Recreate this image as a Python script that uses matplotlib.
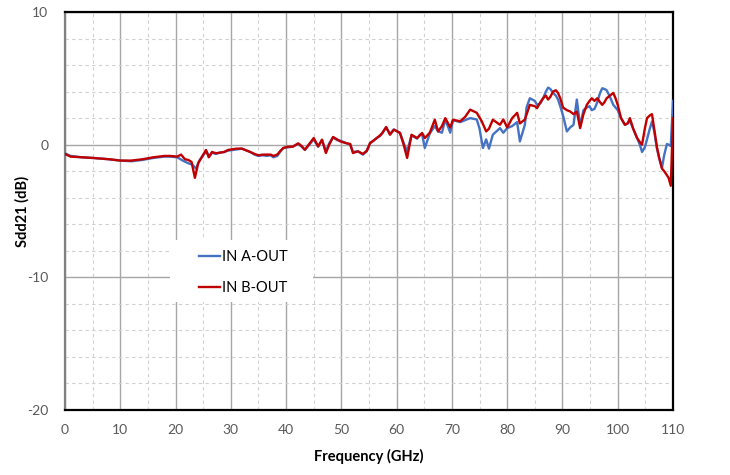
import matplotlib
matplotlib.use('Agg')
import matplotlib.pyplot as plt
from matplotlib.ticker import MultipleLocator
from matplotlib.patches import Rectangle

# IN A-OUT trace (GHz, dB)
freq_a = [0, 1, 3, 5, 8, 10, 12, 14, 16, 18, 19, 20.3, 21.3, 22.3, 23, 23.7, 24.3,
          25, 25.6, 26.1, 26.6, 27.3, 28, 28.8, 29.5, 30.3, 31, 32, 33.5, 34.3, 35,
          35.8, 36.5, 37.2, 37.7, 38.4, 39, 39.5, 40.3, 41.2, 42.2, 42.8, 43.4, 44,
          45, 45.8, 46.5, 47.2, 47.8, 48.5, 49.2, 49.8, 50.7, 51.6, 52.1, 53, 53.9,
          54.6, 55.2, 55.8, 56.4, 57, 57.4, 58.1, 58.8, 59.5, 60.6, 61.2, 61.9, 62.7,
          63.7, 64.2, 64.6, 65.1, 66, 66.9, 67.5, 68.2, 68.8, 69.7, 70.2, 71.5, 72.4,
          73.3, 74.5, 75, 75.4, 75.6, 76.2, 76.7, 77.4, 78.7, 79.3, 80, 80.9, 81.8,
          82.3, 83.2, 83.5, 84.1, 85, 85.4, 86, 86.5, 87, 87.4, 87.8, 88.3, 88.8,
          89.2, 89.6, 90.1, 90.8, 91.4, 92.0, 92.6, 93.2, 93.8, 94.4, 94.9, 95.3,
          95.8, 96.3, 96.8, 97.2, 97.6, 98, 98.6, 99.2, 99.6, 100, 100.6, 101.3,
          101.8, 102.2, 102.8, 103.5, 104, 104.4, 104.9, 105.3, 105.8, 106.2, 106.6,
          107.1, 107.5, 108, 108.4, 108.9, 109.2, 109.6, 110]
sdd21_a = [-0.65, -0.85, -0.95, -1.0, -1.1, -1.2, -1.25, -1.15, -1.0, -0.9, -0.9,
           -0.95, -1.2, -1.4, -1.5, -1.8, -1.2, -0.8, -0.5, -0.9, -0.6, -0.7, -0.6,
           -0.55, -0.45, -0.4, -0.35, -0.3, -0.55, -0.75, -0.85, -0.8, -0.85, -0.8,
           -0.95, -0.85, -0.5, -0.25, -0.2, -0.15, 0.05, -0.15, -0.4, -0.1, 0.4,
           -0.15, 0.35, -0.5, 0.1, 0.55, 0.35, 0.3, 0.15, 0.0, -0.55, -0.5, -0.75,
           -0.5, 0.1, 0.3, 0.5, 0.65, 0.85, 1.3, 0.8, 1.15, 0.9, 0.2, -0.5, 0.7,
           0.45, 0.75, 0.8, -0.25, 0.85, 1.4, 1.0, 0.9, 1.9, 0.9, 1.85, 1.7, 1.85,
           2.0, 1.9, 1.2, 0.25, -0.25, 0.4, -0.3, 0.75, 1.25, 0.9, 1.25, 1.4, 1.7,
           0.25, 1.5, 2.8, 3.5, 3.3, 3.0, 3.1, 3.5, 4.0, 4.3, 4.2, 3.9, 3.7, 3.4,
           2.9, 2.2, 1.0, 1.3, 1.5, 3.4, 1.4, 2.6, 2.8, 2.9, 2.6, 2.7, 3.2, 3.9, 4.25,
           4.2, 4.1, 3.6, 3.0, 2.8, 2.6, 2.0, 1.5, 1.6, 1.8, 1.2, 0.5, 0.0, -0.55,
           -0.2, 0.4, 1.2, 1.75, 1.0, -0.3, -1.0, -1.75, -0.8, 0.05, 0.0, -0.1, 3.3]

# IN B-OUT trace (GHz, dB)
freq_b = [0, 1, 3, 5, 8, 10, 12, 14, 16, 18, 19, 20.3, 21, 21.7, 22.3, 22.9, 23.5,
          24.1, 25, 25.5, 26, 26.6, 27.3, 28, 28.8, 29.5, 30.3, 31, 32, 33.5, 34.3,
          35, 35.8, 36.5, 37.2, 37.7, 38.4, 39, 39.5, 40.3, 41.2, 42.2, 42.8, 43.4,
          44, 45, 45.8, 46.5, 47.2, 47.8, 48.5, 49.2, 49.8, 50.7, 51.6, 52.1, 53,
          53.9, 54.6, 55.2, 55.8, 56.4, 57, 57.4, 58.1, 58.8, 59.5, 60.6, 61.2, 61.9,
          62.7, 63.7, 64.2, 64.6, 65.1, 66, 66.9, 67.5, 68.2, 68.8, 69.7, 70.2, 71.5,
          72.4, 73.3, 74.5, 75.4, 76.2, 76.7, 77.4, 78.7, 79.3, 80, 80.9, 81.8, 82.3,
          83.2, 84.1, 85, 85.4, 86, 86.5, 87, 87.4, 87.8, 88.3, 88.8, 89.2, 89.6,
          90.1, 90.8, 91.4, 92, 92.6, 93.2, 93.8, 94.4, 94.9, 95.3, 95.8, 96.3, 96.8,
          97.2, 97.6, 98, 98.6, 99.2, 99.6, 100, 100.6, 101.3, 101.8, 102.2, 102.8,
          103.5, 104, 104.4, 104.9, 105.3, 105.8, 106.2, 106.6, 107.1, 107.5, 108,
          108.4, 108.9, 109.2, 109.6, 110]
sdd21_b = [-0.7, -0.9, -0.95, -1.0, -1.1, -1.2, -1.2, -1.1, -0.95, -0.85, -0.85,
           -0.9, -0.75, -1.1, -1.15, -1.3, -2.5, -1.4, -0.75, -0.4, -0.95, -0.55,
           -0.65, -0.6, -0.55, -0.4, -0.35, -0.3, -0.3, -0.55, -0.7, -0.8, -0.75,
           -0.75, -0.75, -0.85, -0.75, -0.45, -0.25, -0.15, -0.15, 0.1, -0.1, -0.38,
           -0.05, 0.5, -0.13, 0.38, -0.63, 0.0, 0.58, 0.4, 0.25, 0.13, 0.05, -0.63,
           -0.5, -0.7, -0.45, 0.13, 0.3, 0.5, 0.7, 0.88, 1.33, 0.75, 1.13, 0.88, 0.1,
           -1.0, 0.75, 0.5, 0.7, 0.88, 0.5, 0.9, 1.88, 1.0, 1.4, 2.0, 1.3, 1.88,
           1.76, 2.1, 2.64, 2.4, 1.76, 1.0, 1.2, 1.88, 1.5, 1.9, 1.3, 2.0, 2.4, 1.6,
           1.9, 3.0, 2.9, 2.75, 3.2, 3.5, 3.7, 3.4, 3.6, 4.0, 4.1, 3.9, 3.5, 2.8,
           2.6, 2.5, 2.3, 2.5, 1.25, 2.3, 3.0, 3.3, 3.5, 3.3, 3.5, 3.2, 3.0, 3.2,
           3.5, 3.7, 3.9, 3.5, 3.0, 2.0, 1.5, 1.6, 2.0, 1.2, 0.5, 0.2, 0.0, 1.2,
           2.0, 2.2, 2.3, 1.2, -0.2, -1.0, -1.8, -2.0, -2.3, -2.5, -3.1, 2.0]

labels = ['IN A-OUT', 'IN B-OUT']

plt.rcParams['font.family'] = ['Lato', 'DejaVu Sans']
plt.rcParams['axes.unicode_minus'] = False

fig = plt.figure(figsize=(7.3, 4.75), dpi=100)
ax = fig.add_axes([65/730, 1 - 410/475, 608/730, 398/475])

ax.plot(freq_a, sdd21_a, color='#4472C4', lw=1.7, label=labels[0], zorder=3)
ax.plot(freq_b, sdd21_b, color='#C00000', lw=1.7, label=labels[1], zorder=4)

ax.set_xlim(0, 110)
ax.set_ylim(-20, 10)
ax.xaxis.set_major_locator(MultipleLocator(10))
ax.xaxis.set_minor_locator(MultipleLocator(5))
ax.yaxis.set_major_locator(MultipleLocator(10))
ax.yaxis.set_minor_locator(MultipleLocator(2))
ax.grid(which='major', color='#a6a6a6', lw=1.0, ls='-')
ax.grid(which='minor', color='#d0d0d0', lw=0.8, ls=(0, (3, 3)))
ax.set_axisbelow(True)
ax.tick_params(which='both', length=0, labelsize=10, labelcolor='#595959')
ax.tick_params(axis='x', pad=10)
ax.tick_params(axis='y', pad=12)

for s in ['top', 'bottom', 'right']:
    ax.spines[s].set_color('black')
    ax.spines[s].set_linewidth(1.6)
ax.spines['left'].set_color('#808080')
ax.spines['left'].set_linewidth(1.6)

ax.set_xlabel('Frequency (GHz)', fontsize=10.5, fontweight='bold')
ax.set_ylabel('Sdd21 (dB)', fontsize=10.5, fontweight='bold')
ax.xaxis.set_label_coords(0.5, -0.098)
ax.yaxis.set_label_coords(-0.0576, 0.5)

# white legend box, wider than its entries
ax.add_patch(Rectangle((0.1727, 0.2714), 0.2352, 0.1558, transform=ax.transAxes,
                       facecolor='white', edgecolor='none', zorder=2))
leg = ax.legend(loc='center left', bbox_to_anchor=(0.2204, 0.3455), frameon=False,
                fontsize=10.5, handlelength=1.45, handletextpad=0.15,
                labelspacing=1.2, borderpad=0, borderaxespad=0)

fig.savefig('out.png', dpi=100)
